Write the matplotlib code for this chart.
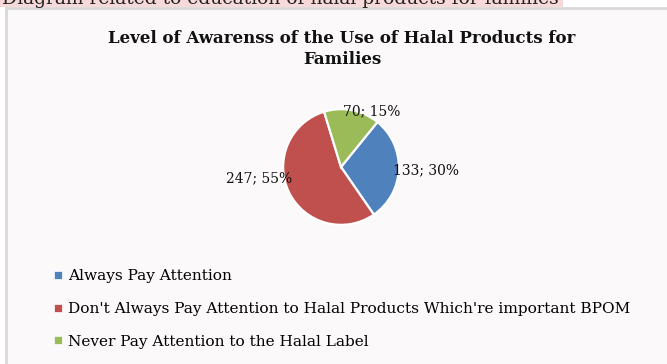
import matplotlib
matplotlib.use("Agg")
import matplotlib.pyplot as plt
from matplotlib.patches import Rectangle
from matplotlib.lines import Line2D

# Survey data
categories = [
    "Always Pay Attention",
    "Don't Always Pay Attention to Halal Products Which're important BPOM",
    "Never Pay Attention to the Halal Label",
]
counts = [133, 247, 70]
percent_labels = ["30%", "55%", "15%"]
colors = ["#4f81bd", "#c0504d", "#9bbb59"]

title = "Level of Awarenss of the Use of Halal Products for\nFamilies"
caption = "Diagram related to education of halal products for families"

W, H = 667, 364
fig = plt.figure(figsize=(W / 100, H / 100), dpi=100)
fig.patch.set_facecolor("white")
plt.rcParams["font.family"] = ["DejaVu Serif"]


def fx(px):
    return px / W


def fy(py):
    return 1 - py / H


# caption strip above the chart (cut off by the page edge)
fig.add_artist(Rectangle((0, fy(6.5)), fx(563), 6.5 / H, transform=fig.transFigure,
                         facecolor="#f7d9da", edgecolor="none", zorder=0))
fig.text(fx(2), fy(4), caption, fontsize=13.5, va="baseline", ha="left",
         color="#222222", zorder=1)

# chart area
fig.add_artist(Rectangle((fx(6), 0), 1 - fx(6), fy(8), transform=fig.transFigure,
                         facecolor="#fbf9fa", edgecolor="none", zorder=0))
fig.add_artist(Line2D([fx(6), fx(6)], [0, fy(8)], transform=fig.transFigure,
                      color="#d9d9d9", lw=2, zorder=1))
fig.add_artist(Line2D([fx(6), 1], [fy(8), fy(8)], transform=fig.transFigure,
                      color="#d9d9d9", lw=2, zorder=1))

fig.text(fx(342), fy(49), title, ha="center", va="center", fontsize=12,
         fontweight="bold", color="#111111", linespacing=1.25)

# pie
cx, cy, r = 341, 167, 59
ax = fig.add_axes([fx(cx - r), fy(cy + r), 2 * r / W, 2 * r / H])
ax.axis("off")
wedges, _ = ax.pie(counts, colors=colors, startangle=51, counterclock=False,
                   radius=1, wedgeprops=dict(edgecolor="white", linewidth=1.6))
ax.set_aspect("equal")
ax.set_xlim(-1.02, 1.02)
ax.set_ylim(-1.02, 1.02)

label_pos = [(1.47, -0.06), (-1.41, -0.20), (0.53, 0.97)]
for (lx, ly), n, p in zip(label_pos, counts, percent_labels):
    ax.text(lx, ly, f"{n}; {p}", ha="center", va="center", fontsize=10,
            color="#111111", clip_on=False)

# legend
handles = [Line2D([], [], marker="s", linestyle="none", markersize=6,
                  markerfacecolor=c, markeredgecolor="white", markeredgewidth=0.5)
           for c in colors]
fig.legend(handles, categories, loc="upper left", bbox_to_anchor=(fx(46), fy(263)),
           frameon=False, fontsize=11.1, handlelength=0.8, handletextpad=0.25,
           labelspacing=1.22, borderaxespad=0)

fig.savefig("out.png", dpi=100, facecolor=fig.get_facecolor())
